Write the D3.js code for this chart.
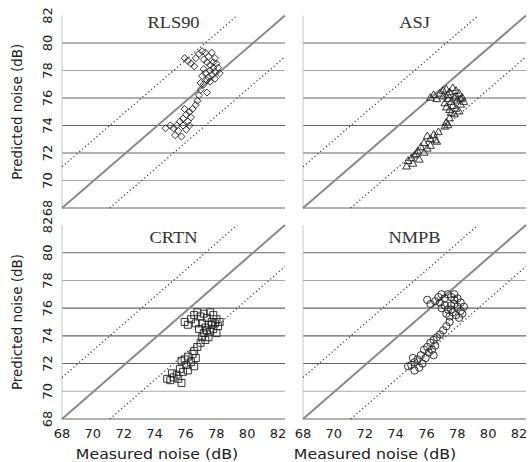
<!DOCTYPE html>
<html lang="en">
<head>
<meta charset="UTF-8">
<style>
	body { margin: 0; background: #fff; }
	svg { display: block; }
	.tick { font-family: "DejaVu Sans", sans-serif; font-size: 13px; fill: #222; }
	.title { font-family: "Liberation Serif", serif; font-size: 16px; fill: #333; }
	.axlabel { font-family: "DejaVu Sans", sans-serif; font-size: 13.5px; fill: #222; }
</style>
<script src="https://d3js.org/d3.v7.min.js"></script>
<title>Predicted vs measured noise</title>
</head>
<body>
<div id="chart"></div>
<script>
// tick values (dB) shared by both axes
const ticks = [68, 70, 72, 74, 76, 78, 80, 82];
const models = ["RLS90", "ASJ", "CRTN", "NMPB"];
// offsets of the reference lines: y = x + offset
const refOffsets = [3, 0, -3];

// [measured, predicted] pairs
const rls90 = [
	[75.7,78.9],[75.9,78.7],[76.1,78.5],[76.3,78.3],[76.4,78.9],[76.6,79.2],[76.8,79.4],[77.0,79.3],
	[77.2,79.0],[77.4,79.3],[77.6,78.9],[77.7,78.5],[77.5,78.2],[77.3,78.0],[77.1,78.6],[76.9,78.1],
	[77.0,77.8],[77.2,77.5],[77.4,77.7],[77.6,77.9],[77.8,78.2],[77.9,77.8],[77.3,78.4],[77.5,78.6],
	[76.9,78.8],[77.1,77.3],[76.8,77.6],[77.3,77.2],[77.6,77.4],[76.9,77.0],[76.7,76.6],[76.6,76.2],
	[76.5,75.8],[76.4,75.5],[77.1,76.4],[76.7,77.1],[76.2,75.2],[76.0,75.0],[75.8,74.8],[76.1,74.6],
	[75.6,74.5],[75.9,74.3],[75.4,74.3],[75.2,74.0],[75.6,74.0],[75.0,73.8],[75.3,73.6],[75.8,73.7],
	[76.0,74.0],[75.1,73.3],[75.5,73.2],[74.8,74.0],[74.5,73.8],[75.7,75.2]
];
const asj = [
	[76.0,76.0],[76.2,76.2],[76.4,75.9],[76.6,76.3],[76.8,76.5],[77.0,76.6],[77.2,76.4],[77.4,76.7],
	[77.6,76.5],[77.8,76.3],[78.0,76.0],[78.1,75.7],[77.9,75.5],[77.7,75.8],[77.5,76.0],[77.3,75.7],
	[77.1,75.9],[76.9,75.6],[77.0,75.3],[77.2,75.1],[77.4,75.4],[77.6,75.2],[77.8,75.0],[77.5,74.8],
	[77.3,74.9],[76.8,76.1],[77.6,76.1],[77.1,76.2],[77.9,75.9],[77.2,74.5],[77.0,74.2],[76.9,73.9],
	[77.1,74.0],[76.5,73.5],[76.2,73.3],[76.0,73.0],[75.8,73.2],[76.3,72.9],[75.6,72.7],[76.0,72.5],
	[75.4,72.4],[75.8,72.3],[75.2,72.1],[75.6,72.0],[75.0,71.8],[74.8,71.6],[75.3,71.5],[74.6,71.4],
	[74.9,71.2],[74.5,71.0],[75.1,71.9],[76.4,72.8]
];
const crtn = [
	[75.7,75.0],[75.9,74.8],[76.1,75.2],[76.3,75.5],[76.5,75.7],[76.7,75.4],[76.9,75.6],[77.1,75.3],
	[77.3,75.7],[77.5,75.5],[77.7,75.2],[77.9,75.0],[77.8,74.7],[77.6,74.9],[77.4,75.0],[77.2,74.8],
	[77.0,74.6],[76.8,74.9],[76.6,74.5],[76.9,74.2],[77.1,74.4],[77.3,74.3],[77.5,74.5],[77.7,74.2],
	[76.8,73.9],[77.0,73.7],[77.2,73.9],[76.7,73.5],[77.4,74.8],[76.4,74.9],[76.5,73.2],[76.3,72.9],
	[76.2,72.7],[75.9,72.5],[76.4,72.4],[75.7,72.3],[76.1,72.1],[75.5,72.2],[75.8,71.9],[76.3,71.8],
	[75.4,71.6],[75.6,71.4],[75.2,71.2],[75.0,71.0],[74.8,70.8],[75.3,70.9],[74.6,70.9],[75.5,70.6],
	[74.9,71.3],[75.9,71.5]
];
const nmpb = [
	[75.8,76.6],[76.0,76.3],[76.3,76.5],[76.5,76.8],[76.7,77.0],[76.9,76.7],[77.1,77.0],[77.3,76.8],
	[77.5,77.0],[77.7,76.7],[77.9,76.4],[78.1,76.1],[77.9,75.8],[77.7,76.1],[77.5,76.3],[77.3,76.2],
	[77.1,75.9],[76.9,76.2],[76.7,76.0],[77.0,75.6],[77.2,75.4],[77.4,75.7],[77.6,75.5],[77.8,75.3],
	[78.0,75.6],[77.3,75.9],[77.5,76.6],[76.6,76.4],[77.2,75.0],[77.0,74.7],[76.8,74.4],[76.6,74.1],
	[76.4,73.9],[76.2,73.7],[76.0,73.5],[76.3,73.3],[75.8,73.2],[76.1,73.0],[75.6,73.0],[75.9,72.8],
	[76.2,72.6],[75.4,72.6],[75.7,72.4],[75.2,72.3],[75.5,72.0],[75.0,72.1],[74.8,71.9],[75.3,71.7],
	[74.6,71.8],[75.0,71.5],[74.9,72.4]
];

const series = [rls90, asj, crtn, nmpb];
const symbols = [d3.symbolDiamond2, d3.symbolTriangle, d3.symbolSquare, d3.symbolCircle];
const symbolSizes = [32, 26, 48, 42];

const width = 530, height = 462;
// panel boxes: [left, right] columns, [top, bottom] rows
const cols = [[62, 285], [303, 526]];
const rows = [[15.5, 208], [225, 419]];

const svg = d3.select("#chart").append("svg")
	.attr("width", width)
	.attr("height", height);

models.forEach(function(name, i) {
	const c = i % 2, r = Math.floor(i / 2);
	const x = d3.scaleLinear([68, 82], cols[c]);
	const y = d3.scaleLinear([68, 82], [rows[r][1], rows[r][0]]);
	const g = svg.append("g").attr("id", "panel-" + name);

	// horizontal grid lines
	g.selectAll(".grid")
		.data(ticks.slice(1, -1))
		.join("line")
		.attr("class", "grid")
		.attr("x1", cols[c][0])
		.attr("x2", cols[c][1])
		.attr("y1", d => y(d))
		.attr("y2", d => y(d))
		.attr("stroke", d => (d == 78 || d == 70) ? "#aaa" : "#666")
		.attr("stroke-width", 1.1);

	// left and bottom axis lines
	g.append("line")
		.attr("x1", x(68)).attr("x2", x(68))
		.attr("y1", y(68)).attr("y2", y(82))
		.attr("stroke", "#c4c4c4");
	g.append("line")
		.attr("x1", x(68)).attr("x2", x(82))
		.attr("y1", y(68)).attr("y2", y(68))
		.attr("stroke", "#666")
		.attr("stroke-width", 1.2);

	// 1:1 line and +/-3 dB lines
	g.selectAll(".ref")
		.data(refOffsets)
		.join("line")
		.attr("class", "ref")
		.attr("x1", d => x(Math.max(68, 68 - d)))
		.attr("y1", d => y(Math.max(68, 68 - d) + d))
		.attr("x2", d => x(Math.min(82, 82 - d)))
		.attr("y2", d => y(Math.min(82, 82 - d) + d))
		.attr("stroke", d => d == 0 ? "#8a8a8a" : "#444")
		.attr("stroke-width", d => d == 0 ? 2 : 1.3)
		.attr("stroke-dasharray", d => d == 0 ? null : "1.2,2.6");

	// data markers
	g.selectAll(".pt")
		.data(series[i])
		.join("path")
		.attr("class", "pt")
		.attr("transform", d => "translate(" + x(d[0]) + "," + y(d[1]) + ")")
		.attr("d", d3.symbol(symbols[i], symbolSizes[i]))
		.attr("fill", "none")
		.attr("stroke", "#222")
		.attr("stroke-width", 0.9);

	// panel title (source image is stretched a little sideways)
	g.append("text")
		.attr("class", "title")
		.attr("text-anchor", "middle")
		.attr("transform", "translate(" + ((cols[c][0] + cols[c][1]) / 2) + "," +
			(rows[r][0] + (r == 0 ? 12.5 : 18)) + ") scale(1.15,1)")
		.text(name);

	// y tick labels on the left column
	if (c == 0) {
		g.selectAll(".ytick")
			.data(ticks)
			.join("text")
			.attr("class", "tick")
			.attr("text-anchor", "middle")
			.attr("transform", d => "translate(52," + y(d) + ") rotate(-90)")
			.text(d => d);
		g.append("text")
			.attr("class", "axlabel")
			.attr("text-anchor", "middle")
			.attr("transform", "translate(22," + ((rows[r][0] + rows[r][1]) / 2) + ") rotate(-90)")
			.text("Predicted noise (dB)");
	}
	// x tick labels on the bottom row
	if (r == 1) {
		g.selectAll(".xtick")
			.data(ticks)
			.join("text")
			.attr("class", "tick")
			.attr("text-anchor", "middle")
			.attr("x", d => x(d) - (d - 68) * 0.5)
			.attr("y", 438)
			.text(d => d);
		g.append("text")
			.attr("class", "axlabel")
			.attr("text-anchor", "middle")
			.attr("transform", "translate(" + (c == 0 ? 157 : 375) + ",459) scale(1.17,1)")
			.text("Measured noise (dB)");
	}
});
</script>
</body>
</html>
